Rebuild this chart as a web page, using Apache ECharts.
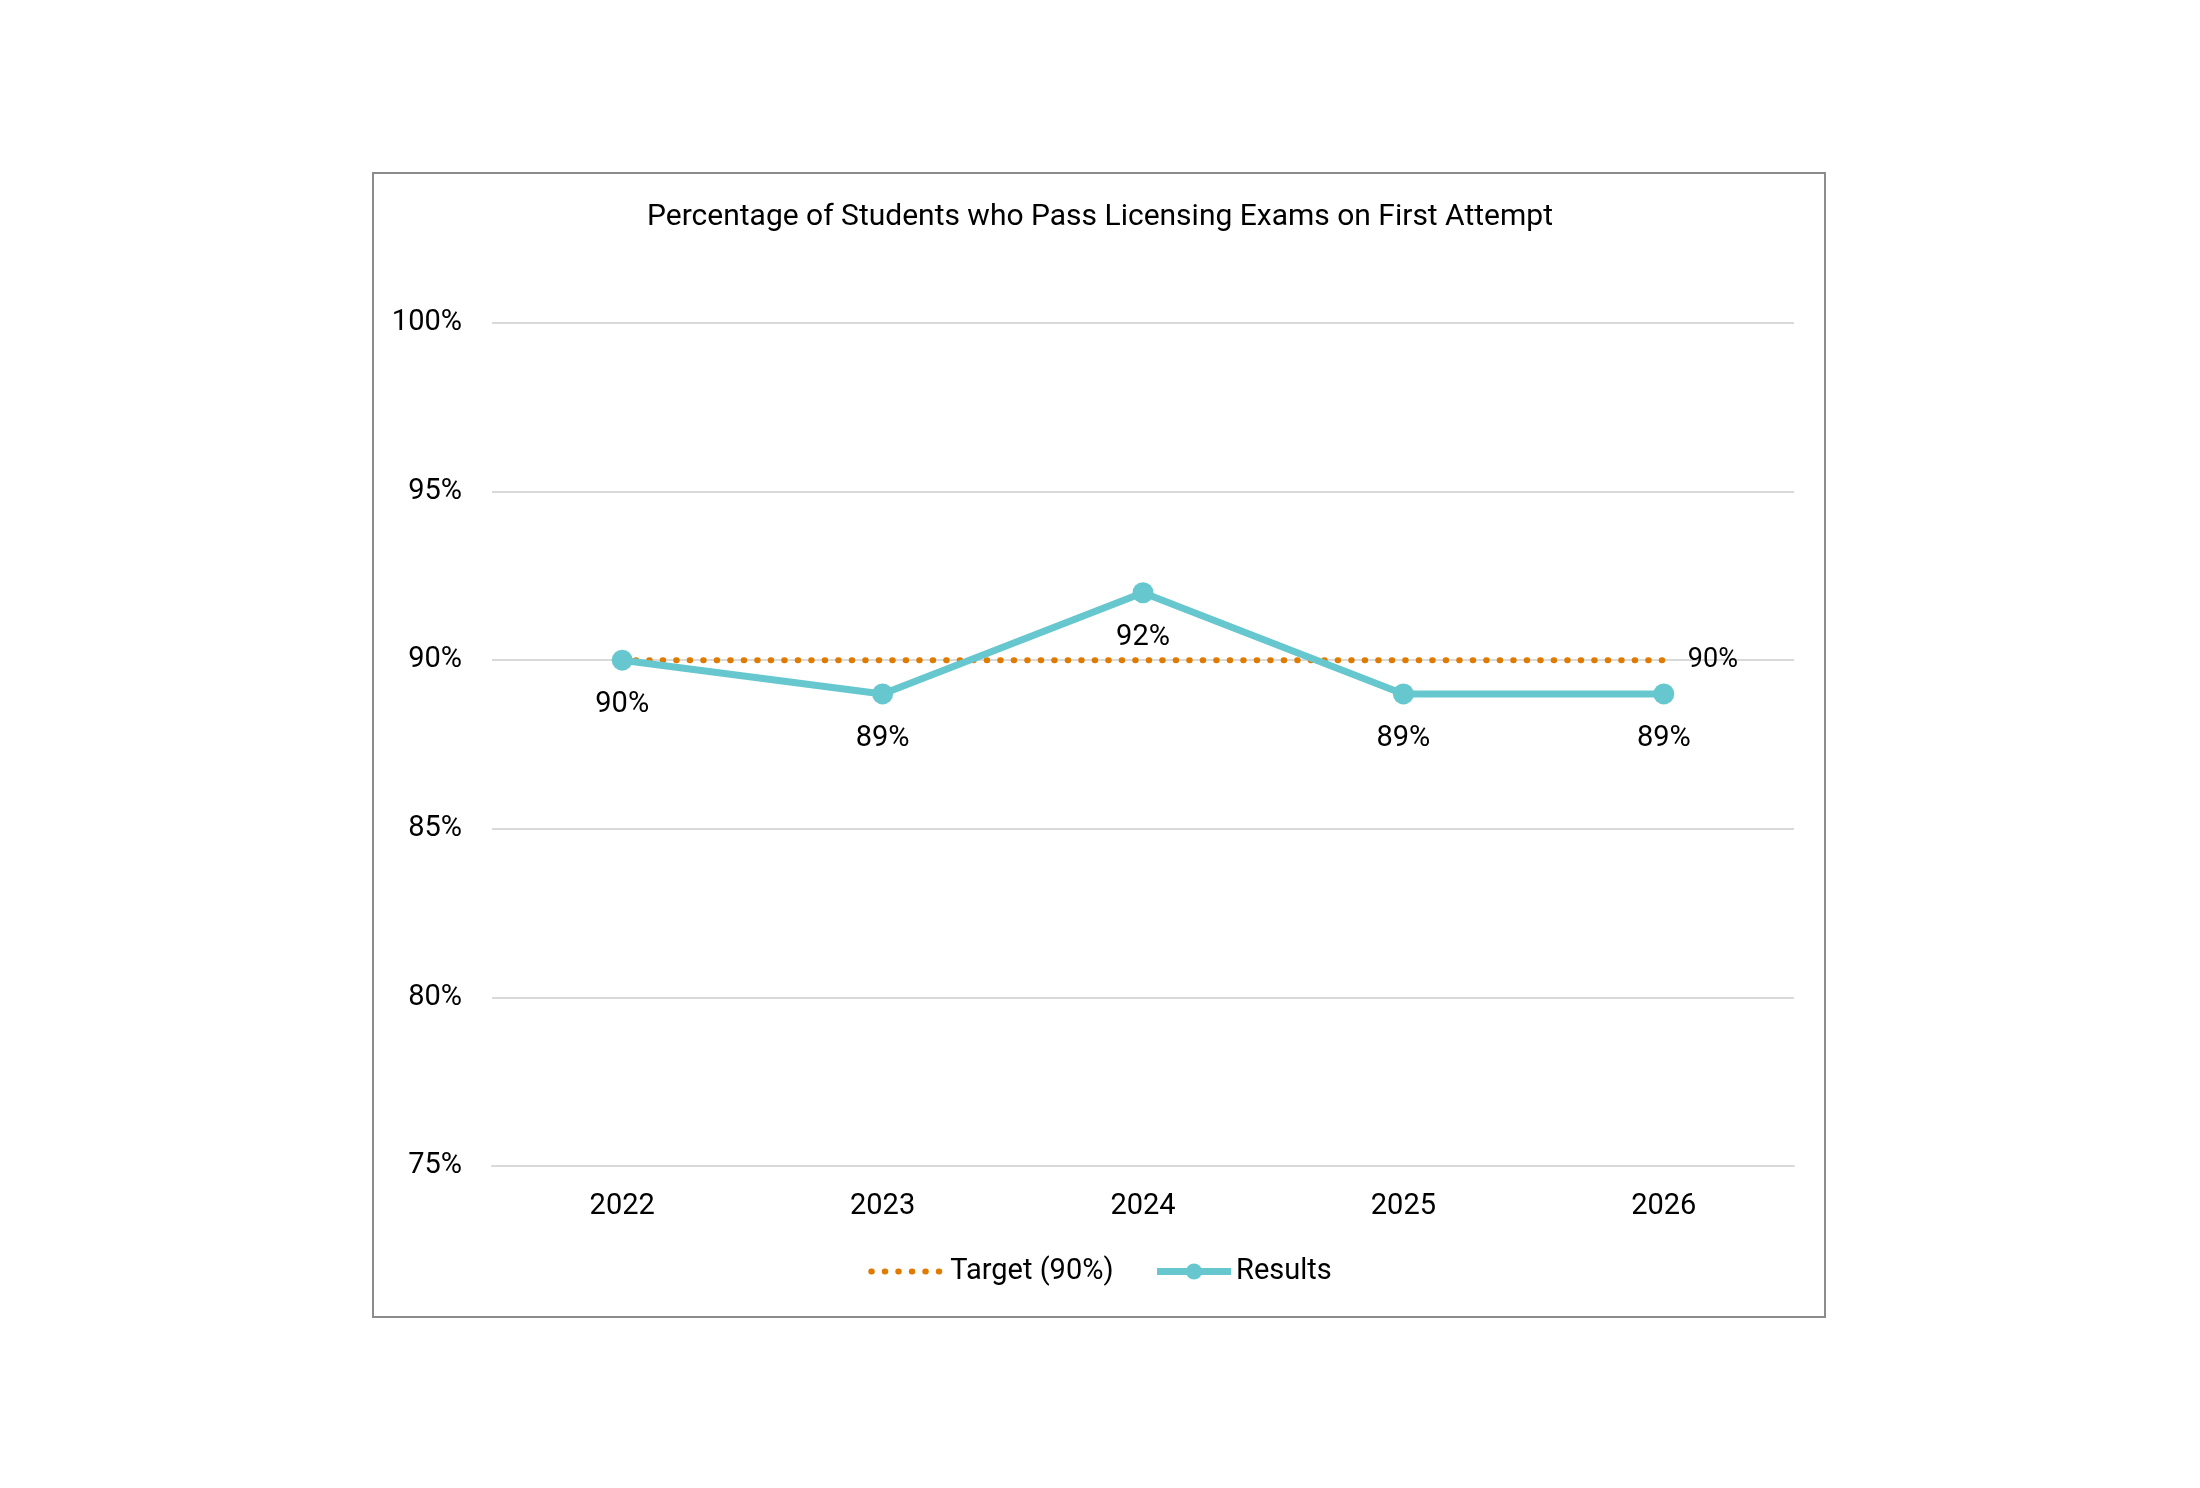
<!DOCTYPE html>
<html>
<head>
    <meta charset="utf-8">
    <title>Licensing Exams</title>
    <script src="https://cdn.jsdelivr.net/npm/echarts@6.0.0/dist/echarts.min.js"></script>
    <style>
        html, body { margin: 0; padding: 0; background: #fff; }
        #chart { width: 2200px; height: 1488px; }
    </style>
</head>
<body>
    <div id="chart"></div>
    <script type="text/javascript">
        var years = ['2022', '2023', '2024', '2025', '2026'];
        var targetValues = [90, 90, 90, 90, 90];
        var resultValues = [90, 89, 92, 89, 89];
        var yTicks = [75, 80, 85, 90, 95, 100];

        var fontName = 'Roboto, "Liberation Sans", sans-serif';
        var dots = [0.5, 13];

        var myChart = echarts.init(document.getElementById('chart'));

        var option = {
            backgroundColor: '#ffffff',
            animation: false,
            title: {
                text: 'Percentage of Students who Pass Licensing Exams on First Attempt',
                left: 'center',
                top: 197,
                textStyle: { fontFamily: fontName, fontSize: 30, fontWeight: 'normal', color: '#000' }
            },
            graphic: [
                {
                    type: 'rect',
                    shape: { x: 373, y: 173, width: 1452, height: 1144 },
                    style: { fill: 'none', stroke: '#8c8c8c', lineWidth: 2 },
                    silent: true
                }
            ],
            legend: {
                top: 1252,
                left: 'center',
                itemWidth: 74,
                itemHeight: 20,
                itemGap: 40,
                textStyle: { fontFamily: fontName, fontSize: 29, color: '#000' },
                data: [
                    {
                        name: 'Target (90%)',
                        itemStyle: { opacity: 0 },
                        lineStyle: { color: '#e07b00', width: 6, type: dots, cap: 'round' }
                    },
                    {
                        name: 'Results',
                        lineStyle: { color: '#66c8ce', width: 7 }
                    }
                ]
            },
            grid: {
                left: 492,
                right: 406,
                top: 323,
                bottom: 322
            },
            xAxis: {
                type: 'category',
                data: years,
                boundaryGap: true,
                axisLine: { show: true, lineStyle: { color: '#d9d9d9', width: 2 } },
                axisTick: { show: false },
                axisLabel: { fontFamily: fontName, fontSize: 29, color: '#000', margin: 26 }
            },
            yAxis: {
                type: 'value',
                min: yTicks[0],
                max: yTicks[yTicks.length - 1],
                interval: 5,
                axisLine: { show: false },
                axisTick: { show: false },
                splitLine: { lineStyle: { color: '#d9d9d9', width: 2 } },
                axisLabel: {
                    fontFamily: fontName, fontSize: 29, color: '#000', margin: 30,
                    formatter: '{value}%'
                }
            },
            series: [
                {
                    name: 'Target (90%)',
                    type: 'line',
                    data: targetValues,
                    showSymbol: false,
                    symbol: 'none',
                    lineStyle: { color: '#e07b00', width: 6, type: dots, cap: 'round' },
                    itemStyle: { color: '#e07b00' },
                    z: 2,
                    endLabel: {
                        show: true,
                        formatter: '{c}%',
                        distance: 24,
                        fontFamily: fontName, fontSize: 27, color: '#000'
                    }
                },
                {
                    name: 'Results',
                    type: 'line',
                    data: resultValues,
                    symbol: 'circle',
                    symbolSize: 21,
                    lineStyle: { color: '#66c8ce', width: 7 },
                    itemStyle: { color: '#66c8ce' },
                    z: 3,
                    label: {
                        show: true,
                        position: 'bottom',
                        distance: 20,
                        formatter: '{c}%',
                        fontFamily: fontName, fontSize: 29, color: '#000'
                    }
                }
            ]
        };

        myChart.setOption(option);
    </script>
</body>
</html>
